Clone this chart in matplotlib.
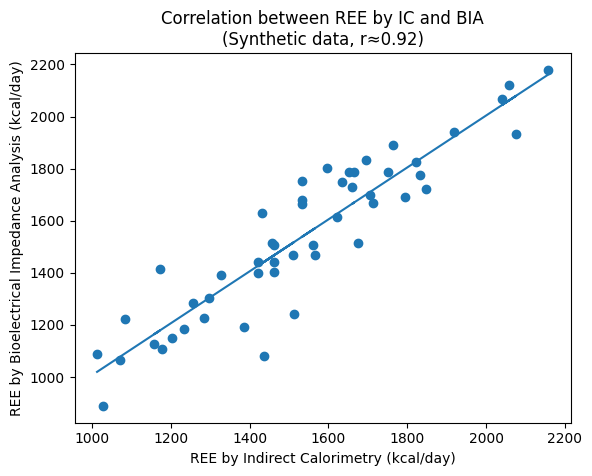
import matplotlib
matplotlib.use("Agg")
import matplotlib.pyplot as plt
import numpy as np

# REE values (kcal/day)
ree_ic = [
    1013, 1027, 1071, 1084, 1172, 1158, 1178, 1203, 1234, 1257,
    1284, 1297, 1328, 1385, 1421, 1421, 1462, 1462, 1437, 1513,
    1432, 1458, 1462, 1509, 1561, 1566, 1532, 1532, 1533, 1597,
    1622, 1635, 1652, 1665, 1660, 1675, 1696, 1705, 1714, 1752,
    1764, 1795, 1822, 1833, 1848, 1918, 2076, 2040, 2057, 2157,
]
ree_bia = [
    1087, 889, 1065, 1223, 1415, 1126, 1106, 1150, 1184, 1283,
    1225, 1303, 1391, 1191, 1440, 1401, 1440, 1402, 1081, 1242,
    1629, 1513, 1508, 1469, 1506, 1467, 1680, 1665, 1753, 1802,
    1614, 1748, 1787, 1787, 1728, 1513, 1832, 1699, 1667, 1787,
    1890, 1690, 1824, 1775, 1721, 1940, 1932, 2069, 2121, 2179,
]

x = np.array(ree_ic)
y = np.array(ree_bia)
slope, intercept = np.polyfit(x, y, 1)

plt.figure(figsize=(6.4, 4.8))
plt.scatter(x, y)
plt.plot(x, slope * x + intercept)
plt.xlabel("REE by Indirect Calorimetry (kcal/day)")
plt.ylabel("REE by Bioelectrical Impedance Analysis (kcal/day)")
plt.title("Correlation between REE by IC and BIA\n(Synthetic data, r≈0.92)")
plt.savefig("out.png", dpi=100, bbox_inches="tight")
plt.close()
